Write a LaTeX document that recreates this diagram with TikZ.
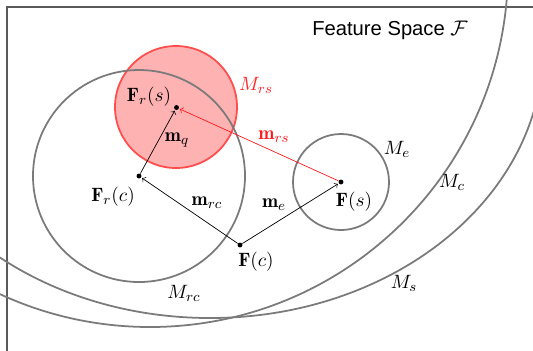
\documentclass[tikz,border=0pt]{standalone}
\usepackage{amsmath}
\usepackage{fontspec}
\newfontfamily\titlefont{Liberation Sans}
\definecolor{ManifoldGray}{HTML}{7A7A7A}
\definecolor{FrameGray}{HTML}{5A5A5A}
\definecolor{ShiftRed}{HTML}{FF1A1A}
\tikzset{
    % Manifold outlines
    manifold/.style={
        draw=ManifoldGray,
        line width=1pt
    },
    manifold red/.style={
        draw=red!70,
        fill=red!30,
        line width=1pt
    },
    % Points in feature space
    feature point/.style={
        circle,
        fill=black,
        inner sep=0pt,
        minimum size=2.8pt
    },
    shift arrow/.style={
        ->,
        black,
        shorten >=0.5pt
    },
    shift arrow red/.style={
        shift arrow,
        ShiftRed
    },
    point label/.style={
        inner sep=1pt
    }
}

\begin{document}
\begin{tikzpicture}[font=\fontsize{11}{13}\selectfont]
        \useasboundingbox (0,0) rectangle (10.66,-7);
        \clip (0,0) rectangle (10.66,-7);

        % Frame of the feature space
        \draw[draw=FrameGray, thick] (0.14,-0.14) rectangle (11.5,-8);
        \node[font=\titlefont\fontsize{11.5}{14}\selectfont] (title) at (7.8,-0.6) {Feature Space $\mathcal{F}$};

        % Retrieved-style manifold (drawn first, lines on top)
        \draw[manifold red] (3.52,-2.14) circle (1.22);

        % Large manifolds
        \draw[manifold] (3.0,0.62) circle (7.16);
        \draw[manifold] (4.2,-0.96) ellipse (6.66 and 5.4);

        % Small manifolds
        \draw[manifold] (2.78,-3.52) circle (2.12);
        \draw[manifold] (6.82,-3.64) circle (0.96);

        % Feature points
        \node[feature point] (frs) at (3.53,-2.15) {};
        \node[feature point] (frc) at (2.78,-3.52) {};
        \node[feature point] (fs) at (6.82,-3.64) {};
        \node[feature point] (fc) at (4.8,-4.9) {};

        % Point labels
        \node[point label] (frs label) at (2.98,-1.94) {$\mathbf{F}_r(s)$};
        \node[point label] (frc label) at (2.26,-3.94) {$\mathbf{F}_r(c)$};
        \node[point label] (fs label) at (7.08,-4.04) {$\mathbf{F}(s)$};
        \node[point label] (fc label) at (5.12,-5.24) {$\mathbf{F}(c)$};

        % Manifold labels
        \node[text=red!85] (mrs name) at (5.12,-1.70) {$M_{rs}$};
        \node (me name) at (7.94,-2.98) {$M_e$};
        \node (mc name) at (9.04,-3.64) {$M_c$};
        \node (ms name) at (8.08,-5.66) {$M_s$};
        \node (mrc name) at (3.68,-5.86) {$M_{rc}$};

        % Shift vectors
        \draw[shift arrow] (fc) -- (frc);
        \draw[shift arrow] (fc) -- (fs);
        \draw[shift arrow] (frc) -- (frs);
        \draw[shift arrow red] (fs) -- (frs);

        \node (mrc vec) at (4.14,-4.06) {$\mathbf{m}_{rc}$};
        \node (me vec) at (5.48,-4.10) {$\mathbf{m}_e$};
        \node (mq vec) at (3.54,-2.80) {$\mathbf{m}_q$};
        \node[text=ShiftRed] (mrs vec) at (5.48,-2.74) {$\mathbf{m}_{rs}$};
    \end{tikzpicture}
\end{document}
